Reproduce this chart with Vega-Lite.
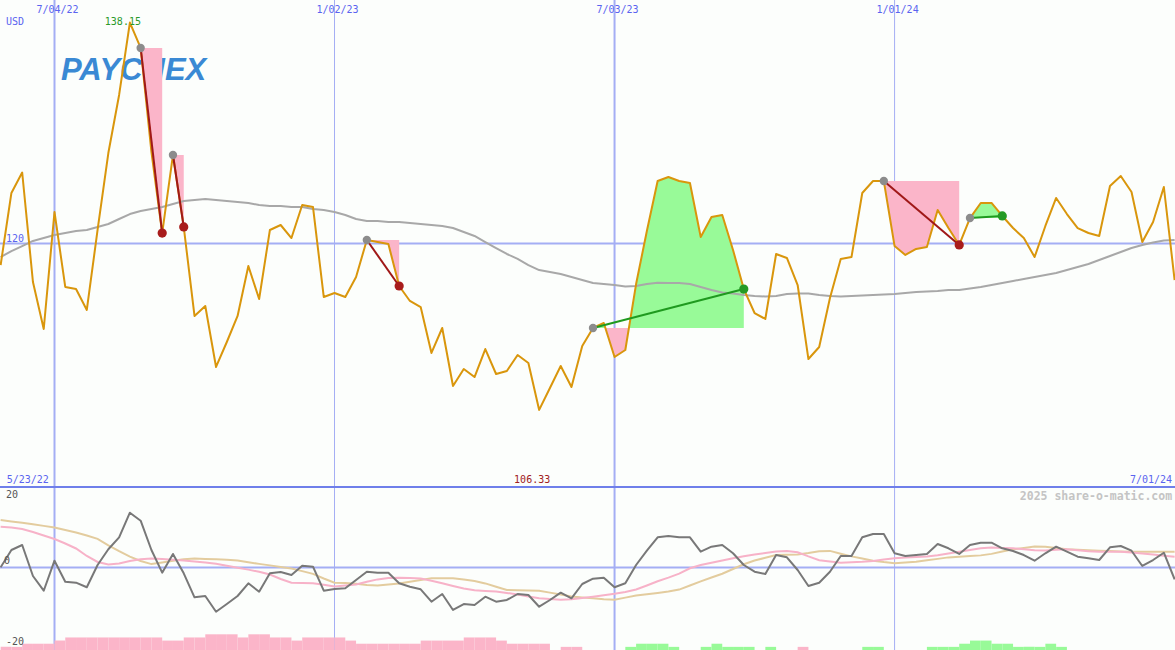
{
"$schema":"https://vega.github.io/schema/vega-lite/v6.json",
"background":"#fcfefc",
"padding":0,
"spacing":0,
"bounds":"flush",
"config":{"view":{"stroke":null},"text":{"font":"DejaVu Sans Mono"}},
"datasets":{
"g":[
{"d":"2022-07-04","t":"7/04/22"},
{"d":"2023-01-02","t":"1/02/23"},
{"d":"2023-07-03","t":"7/03/23"},
{"d":"2024-01-01","t":"1/01/24"}
],
"w":[
{"d":"2022-05-30","p":118.23,"ma":118.89,"mo":0.05,"s1":11.18,"s2":12.99},
{"d":"2022-06-06","p":124.15,"ma":119.38,"mo":4.79,"s1":10.93,"s2":12.63},
{"d":"2022-06-13","p":125.83,"ma":119.79,"mo":6.16,"s1":10.55,"s2":12.25},
{"d":"2022-06-20","p":116.84,"ma":120.21,"mo":-2.33,"s1":9.73,"s2":11.86},
{"d":"2022-06-27","p":112.98,"ma":120.45,"mo":-6.36,"s1":8.77,"s2":11.40},
{"d":"2022-07-04","p":122.59,"ma":120.70,"mo":1.86,"s1":7.81,"s2":10.93},
{"d":"2022-07-11","p":116.43,"ma":120.86,"mo":-3.89,"s1":6.58,"s2":10.27},
{"d":"2022-07-18","p":116.26,"ma":121.03,"mo":-4.16,"s1":5.21,"s2":9.59},
{"d":"2022-07-25","p":114.54,"ma":121.11,"mo":-5.42,"s1":3.15,"s2":8.77},
{"d":"2022-08-01","p":121.11,"ma":121.36,"mo":0.68,"s1":1.51,"s2":7.84},
{"d":"2022-08-08","p":127.43,"ma":121.60,"mo":4.99,"s1":0.82,"s2":6.08},
{"d":"2022-08-15","p":132.20,"ma":122.01,"mo":8.27,"s1":1.10,"s2":4.47},
{"d":"2022-08-22","p":138.15,"ma":122.42,"mo":15.01,"s1":1.78,"s2":2.99},
{"d":"2022-08-29","p":136.06,"ma":122.67,"mo":12.82,"s1":2.25,"s2":1.78},
{"d":"2022-09-05","p":127.52,"ma":122.83,"mo":4.79,"s1":2.47,"s2":0.93},
{"d":"2022-09-12","p":120.86,"ma":123.00,"mo":-1.42,"s1":2.33,"s2":1.37},
{"d":"2022-09-19","p":127.27,"ma":123.24,"mo":3.70,"s1":2.11,"s2":1.84},
{"d":"2022-09-26","p":121.36,"ma":123.49,"mo":-1.59,"s1":1.92,"s2":2.27},
{"d":"2022-10-03","p":114.05,"ma":123.57,"mo":-8.16,"s1":1.64,"s2":2.47},
{"d":"2022-10-10","p":114.87,"ma":123.66,"mo":-7.81,"s1":1.37,"s2":2.36},
{"d":"2022-10-17","p":109.86,"ma":123.57,"mo":-12.11,"s1":1.01,"s2":2.25},
{"d":"2022-10-24","p":111.91,"ma":123.49,"mo":-10.00,"s1":0.49,"s2":2.14},
{"d":"2022-10-31","p":114.05,"ma":123.41,"mo":-7.81,"s1":-0.05,"s2":1.89},
{"d":"2022-11-07","p":118.15,"ma":123.33,"mo":-4.33,"s1":-0.58,"s2":1.42},
{"d":"2022-11-14","p":115.44,"ma":123.16,"mo":-6.63,"s1":-1.18,"s2":0.99},
{"d":"2022-11-21","p":121.11,"ma":123.08,"mo":-1.59,"s1":-1.92,"s2":0.58},
{"d":"2022-11-28","p":121.52,"ma":123.08,"mo":-1.23,"s1":-3.15,"s2":0.16},
{"d":"2022-12-05","p":120.45,"ma":123.00,"mo":-2.05,"s1":-4.16,"s2":-0.30},
{"d":"2022-12-12","p":123.16,"ma":123.00,"mo":0.49,"s1":-4.25,"s2":-0.99},
{"d":"2022-12-19","p":123.00,"ma":122.83,"mo":0.22,"s1":-4.30,"s2":-1.75},
{"d":"2022-12-26","p":115.61,"ma":122.75,"mo":-6.36,"s1":-4.74,"s2":-3.01},
{"d":"2023-01-02","p":115.93,"ma":122.59,"mo":-5.89,"s1":-5.23,"s2":-4.16},
{"d":"2023-01-09","p":115.61,"ma":122.34,"mo":-5.70,"s1":-4.93,"s2":-4.25},
{"d":"2023-01-16","p":117.25,"ma":122.01,"mo":-3.42,"s1":-4.66,"s2":-4.44},
{"d":"2023-01-23","p":120.29,"ma":121.85,"mo":-1.15,"s1":-3.89,"s2":-4.82},
{"d":"2023-01-30","p":120.12,"ma":121.85,"mo":-1.42,"s1":-3.26,"s2":-4.96},
{"d":"2023-02-06","p":119.96,"ma":121.77,"mo":-1.42,"s1":-2.90,"s2":-4.68},
{"d":"2023-02-13","p":116.51,"ma":121.77,"mo":-4.33,"s1":-2.79,"s2":-4.41},
{"d":"2023-02-20","p":115.28,"ma":121.68,"mo":-5.26,"s1":-2.88,"s2":-3.92},
{"d":"2023-02-27","p":114.78,"ma":121.60,"mo":-5.97,"s1":-3.01,"s2":-3.40},
{"d":"2023-03-06","p":111.01,"ma":121.52,"mo":-9.37,"s1":-3.64,"s2":-2.96},
{"d":"2023-03-13","p":113.06,"ma":121.44,"mo":-7.26,"s1":-4.33,"s2":-2.96},
{"d":"2023-03-20","p":108.30,"ma":121.27,"mo":-11.64,"s1":-5.07,"s2":-2.96},
{"d":"2023-03-27","p":109.69,"ma":120.94,"mo":-10.00,"s1":-5.75,"s2":-3.32},
{"d":"2023-04-03","p":109.03,"ma":120.62,"mo":-10.27,"s1":-6.25,"s2":-3.70},
{"d":"2023-04-10","p":111.33,"ma":120.12,"mo":-8.00,"s1":-6.41,"s2":-4.36},
{"d":"2023-04-17","p":109.28,"ma":119.63,"mo":-9.37,"s1":-6.58,"s2":-5.29},
{"d":"2023-04-24","p":109.53,"ma":119.14,"mo":-8.90,"s1":-6.96,"s2":-6.16},
{"d":"2023-05-01","p":110.84,"ma":118.73,"mo":-7.26,"s1":-7.42,"s2":-6.22},
{"d":"2023-05-08","p":110.18,"ma":118.23,"mo":-7.53,"s1":-7.92,"s2":-6.30},
{"d":"2023-05-15","p":106.33,"ma":117.82,"mo":-10.74,"s1":-8.41,"s2":-6.36},
{"d":"2023-05-22","p":108.13,"ma":117.66,"mo":-8.90,"s1":-8.63,"s2":-6.88},
{"d":"2023-05-29","p":109.94,"ma":117.49,"mo":-6.90,"s1":-8.82,"s2":-7.40},
{"d":"2023-06-05","p":108.21,"ma":117.25,"mo":-8.44,"s1":-8.71,"s2":-7.92},
{"d":"2023-06-12","p":111.58,"ma":117.00,"mo":-4.52,"s1":-8.36,"s2":-8.19},
{"d":"2023-06-19","p":113.06,"ma":116.76,"mo":-3.07,"s1":-8.00,"s2":-8.44},
{"d":"2023-06-26","p":113.47,"ma":116.67,"mo":-2.79,"s1":-7.62,"s2":-8.68},
{"d":"2023-07-03","p":110.68,"ma":116.59,"mo":-5.42,"s1":-7.21,"s2":-8.82},
{"d":"2023-07-10","p":111.25,"ma":116.47,"mo":-4.33,"s1":-6.71,"s2":-8.25},
{"d":"2023-07-17","p":116.67,"ma":116.51,"mo":0.68,"s1":-6.03,"s2":-7.67},
{"d":"2023-07-24","p":121.03,"ma":116.67,"mo":4.60,"s1":-4.93,"s2":-7.32},
{"d":"2023-07-31","p":125.13,"ma":116.78,"mo":8.27,"s1":-3.78,"s2":-6.99},
{"d":"2023-08-07","p":125.46,"ma":116.76,"mo":8.63,"s1":-2.79,"s2":-6.60},
{"d":"2023-08-14","p":125.13,"ma":116.76,"mo":8.27,"s1":-1.70,"s2":-6.05},
{"d":"2023-08-21","p":124.97,"ma":116.67,"mo":8.27,"s1":-0.22,"s2":-4.93},
{"d":"2023-08-28","p":120.53,"ma":116.43,"mo":4.33,"s1":0.68,"s2":-3.81},
{"d":"2023-09-04","p":122.18,"ma":116.18,"mo":5.70,"s1":1.29,"s2":-2.74},
{"d":"2023-09-11","p":122.34,"ma":115.98,"mo":6.16,"s1":1.92,"s2":-1.70},
{"d":"2023-09-18","p":119.47,"ma":115.89,"mo":3.89,"s1":2.52,"s2":-0.41},
{"d":"2023-09-25","p":116.26,"ma":115.77,"mo":0.68,"s1":3.10,"s2":0.88},
{"d":"2023-10-02","p":114.29,"ma":115.69,"mo":-1.15,"s1":3.59,"s2":1.92},
{"d":"2023-10-09","p":113.80,"ma":115.65,"mo":-1.78,"s1":3.97,"s2":2.66},
{"d":"2023-10-16","p":119.14,"ma":115.69,"mo":3.42,"s1":4.36,"s2":3.40},
{"d":"2023-10-23","p":118.81,"ma":115.85,"mo":2.79,"s1":4.52,"s2":3.48},
{"d":"2023-10-30","p":116.59,"ma":115.89,"mo":-0.68,"s1":4.19,"s2":3.56},
{"d":"2023-11-06","p":110.51,"ma":115.89,"mo":-5.07,"s1":3.04,"s2":3.97},
{"d":"2023-11-13","p":111.50,"ma":115.77,"mo":-4.16,"s1":1.97,"s2":4.47},
{"d":"2023-11-20","p":115.52,"ma":115.69,"mo":-1.15,"s1":1.62,"s2":4.55},
{"d":"2023-11-27","p":118.73,"ma":115.65,"mo":3.15,"s1":1.32,"s2":3.78},
{"d":"2023-12-04","p":118.89,"ma":115.69,"mo":3.15,"s1":1.42,"s2":3.04},
{"d":"2023-12-11","p":124.15,"ma":115.73,"mo":8.27,"s1":1.56,"s2":2.47},
{"d":"2023-12-18","p":125.13,"ma":115.77,"mo":9.18,"s1":1.81,"s2":1.86},
{"d":"2023-12-25","p":125.13,"ma":115.81,"mo":9.18,"s1":2.19,"s2":1.48},
{"d":"2024-01-01","p":119.79,"ma":115.85,"mo":3.89,"s1":2.55,"s2":1.18},
{"d":"2024-01-08","p":119.06,"ma":115.93,"mo":3.15,"s1":2.71,"s2":1.37},
{"d":"2024-01-15","p":119.55,"ma":116.02,"mo":3.42,"s1":2.88,"s2":1.59},
{"d":"2024-01-22","p":119.71,"ma":116.06,"mo":3.70,"s1":3.04,"s2":1.97},
{"d":"2024-01-29","p":122.75,"ma":116.10,"mo":6.44,"s1":3.34,"s2":2.36},
{"d":"2024-02-05","p":121.27,"ma":116.18,"mo":5.26,"s1":3.84,"s2":2.77},
{"d":"2024-02-12","p":119.88,"ma":116.18,"mo":3.70,"s1":4.30,"s2":2.96},
{"d":"2024-02-19","p":122.09,"ma":116.30,"mo":6.16,"s1":4.79,"s2":3.15},
{"d":"2024-02-26","p":123.33,"ma":116.43,"mo":6.79,"s1":5.29,"s2":3.32},
{"d":"2024-03-04","p":123.33,"ma":116.59,"mo":6.79,"s1":5.48,"s2":3.73},
{"d":"2024-03-11","p":122.26,"ma":116.76,"mo":5.26,"s1":5.37,"s2":4.36},
{"d":"2024-03-18","p":121.27,"ma":116.92,"mo":4.52,"s1":5.26,"s2":4.99},
{"d":"2024-03-25","p":120.45,"ma":117.08,"mo":3.42,"s1":4.99,"s2":5.34},
{"d":"2024-04-01","p":118.89,"ma":117.25,"mo":1.86,"s1":4.71,"s2":5.73},
{"d":"2024-04-08","p":121.44,"ma":117.41,"mo":3.89,"s1":4.68,"s2":5.70},
{"d":"2024-04-15","p":123.74,"ma":117.58,"mo":5.70,"s1":4.85,"s2":5.32},
{"d":"2024-04-22","p":122.42,"ma":117.82,"mo":4.33,"s1":4.99,"s2":4.99},
{"d":"2024-04-29","p":121.27,"ma":118.07,"mo":2.96,"s1":4.71,"s2":4.85},
{"d":"2024-05-06","p":120.86,"ma":118.32,"mo":2.52,"s1":4.44,"s2":4.74},
{"d":"2024-05-13","p":120.62,"ma":118.64,"mo":2.05,"s1":4.33,"s2":4.60},
{"d":"2024-05-20","p":124.72,"ma":118.97,"mo":5.53,"s1":4.33,"s2":4.52},
{"d":"2024-05-27","p":125.54,"ma":119.30,"mo":5.89,"s1":4.30,"s2":4.41},
{"d":"2024-06-03","p":124.23,"ma":119.63,"mo":4.60,"s1":4.11,"s2":4.33},
{"d":"2024-06-10","p":120.12,"ma":119.88,"mo":0.41,"s1":3.81,"s2":4.33},
{"d":"2024-06-17","p":121.77,"ma":120.08,"mo":2.05,"s1":3.53,"s2":4.33},
{"d":"2024-06-24","p":124.64,"ma":120.25,"mo":4.05,"s1":3.23,"s2":4.33},
{"d":"2024-07-01","p":117.00,"ma":120.29,"mo":-3.23,"s1":2.96,"s2":4.33}
],
"s":[
{"g":1,"k":"loss","d":"2022-08-29","p":136.06,"e":136.06},
{"g":1,"k":"loss","d":"2022-09-05","p":127.52,"e":136.06},
{"g":1,"k":"loss","d":"2022-09-12","p":120.86,"e":136.06},
{"g":2,"k":"loss","d":"2022-09-19","p":127.27,"e":127.27},
{"g":2,"k":"loss","d":"2022-09-26","p":121.36,"e":127.27},
{"g":3,"k":"loss","d":"2023-01-23","p":120.29,"e":120.29},
{"g":3,"k":"loss","d":"2023-01-30","p":120.12,"e":120.29},
{"g":3,"k":"loss","d":"2023-02-06","p":119.96,"e":120.29},
{"g":3,"k":"loss","d":"2023-02-13","p":116.51,"e":120.29},
{"g":4,"k":"gain","d":"2023-06-19","p":113.06,"e":113.06},
{"g":4,"k":"gain","d":"2023-06-26","p":113.47,"e":113.06},
{"g":4,"k":"gain","d":"2023-06-27T10:00:00Z","p":113.06,"e":113.06},
{"g":5,"k":"loss","d":"2023-06-27T10:00:00Z","p":113.06,"e":113.06},
{"g":5,"k":"loss","d":"2023-07-03","p":110.68,"e":113.06},
{"g":5,"k":"loss","d":"2023-07-10","p":111.25,"e":113.06},
{"g":5,"k":"loss","d":"2023-07-12T08:00:00Z","p":113.06,"e":113.06},
{"g":6,"k":"gain","d":"2023-07-12T08:00:00Z","p":113.06,"e":113.06},
{"g":6,"k":"gain","d":"2023-07-17","p":116.67,"e":113.06},
{"g":6,"k":"gain","d":"2023-07-24","p":121.03,"e":113.06},
{"g":6,"k":"gain","d":"2023-07-31","p":125.13,"e":113.06},
{"g":6,"k":"gain","d":"2023-08-07","p":125.46,"e":113.06},
{"g":6,"k":"gain","d":"2023-08-14","p":125.13,"e":113.06},
{"g":6,"k":"gain","d":"2023-08-21","p":124.97,"e":113.06},
{"g":6,"k":"gain","d":"2023-08-28","p":120.53,"e":113.06},
{"g":6,"k":"gain","d":"2023-09-04","p":122.18,"e":113.06},
{"g":6,"k":"gain","d":"2023-09-11","p":122.34,"e":113.06},
{"g":6,"k":"gain","d":"2023-09-18","p":119.47,"e":113.06},
{"g":6,"k":"gain","d":"2023-09-25","p":116.26,"e":113.06},
{"g":7,"k":"loss","d":"2023-12-25","p":125.13,"e":125.13},
{"g":7,"k":"loss","d":"2024-01-01","p":119.79,"e":125.13},
{"g":7,"k":"loss","d":"2024-01-08","p":119.06,"e":125.13},
{"g":7,"k":"loss","d":"2024-01-15","p":119.55,"e":125.13},
{"g":7,"k":"loss","d":"2024-01-22","p":119.71,"e":125.13},
{"g":7,"k":"loss","d":"2024-01-29","p":122.75,"e":125.13},
{"g":7,"k":"loss","d":"2024-02-05","p":121.27,"e":125.13},
{"g":7,"k":"loss","d":"2024-02-12","p":119.88,"e":125.13},
{"g":8,"k":"gain","d":"2024-02-19","p":122.09,"e":122.09},
{"g":8,"k":"gain","d":"2024-02-26","p":123.33,"e":122.09},
{"g":8,"k":"gain","d":"2024-03-04","p":123.33,"e":122.09},
{"g":8,"k":"gain","d":"2024-03-11","p":122.26,"e":122.09}
],
"t":[
{"d1":"2022-08-29","p1":136.06,"d2":"2022-09-12","p2":120.86,"k":"loss"},
{"d1":"2022-09-19","p1":127.27,"d2":"2022-09-26","p2":121.36,"k":"loss"},
{"d1":"2023-01-23","p1":120.29,"d2":"2023-02-13","p2":116.51,"k":"loss"},
{"d1":"2023-06-19","p1":113.06,"d2":"2023-09-25","p2":116.26,"k":"gain"},
{"d1":"2023-12-25","p1":125.13,"d2":"2024-02-12","p2":119.88,"k":"loss"},
{"d1":"2024-02-19","p1":122.09,"d2":"2024-03-11","p2":122.26,"k":"gain"}
],
"b":[
{"d":"2022-05-30","e":"2022-06-06","v":-21.74,"k":"loss"},
{"d":"2022-06-06","e":"2022-06-13","v":-21.74,"k":"loss"},
{"d":"2022-06-13","e":"2022-06-20","v":-20.88,"k":"loss"},
{"d":"2022-06-20","e":"2022-06-27","v":-20.88,"k":"loss"},
{"d":"2022-06-27","e":"2022-07-04","v":-20.88,"k":"loss"},
{"d":"2022-07-04","e":"2022-07-11","v":-20.02,"k":"loss"},
{"d":"2022-07-11","e":"2022-07-18","v":-19.16,"k":"loss"},
{"d":"2022-07-18","e":"2022-07-25","v":-19.16,"k":"loss"},
{"d":"2022-07-25","e":"2022-08-01","v":-19.16,"k":"loss"},
{"d":"2022-08-01","e":"2022-08-08","v":-19.16,"k":"loss"},
{"d":"2022-08-08","e":"2022-08-15","v":-19.16,"k":"loss"},
{"d":"2022-08-15","e":"2022-08-22","v":-19.16,"k":"loss"},
{"d":"2022-08-22","e":"2022-08-29","v":-19.16,"k":"loss"},
{"d":"2022-08-29","e":"2022-09-05","v":-19.16,"k":"loss"},
{"d":"2022-09-05","e":"2022-09-12","v":-19.16,"k":"loss"},
{"d":"2022-09-12","e":"2022-09-19","v":-20.02,"k":"loss"},
{"d":"2022-09-19","e":"2022-09-26","v":-20.02,"k":"loss"},
{"d":"2022-09-26","e":"2022-10-03","v":-19.16,"k":"loss"},
{"d":"2022-10-03","e":"2022-10-10","v":-19.16,"k":"loss"},
{"d":"2022-10-10","e":"2022-10-17","v":-18.30,"k":"loss"},
{"d":"2022-10-17","e":"2022-10-24","v":-18.30,"k":"loss"},
{"d":"2022-10-24","e":"2022-10-31","v":-18.30,"k":"loss"},
{"d":"2022-10-31","e":"2022-11-07","v":-19.16,"k":"loss"},
{"d":"2022-11-07","e":"2022-11-14","v":-18.30,"k":"loss"},
{"d":"2022-11-14","e":"2022-11-21","v":-18.30,"k":"loss"},
{"d":"2022-11-21","e":"2022-11-28","v":-19.16,"k":"loss"},
{"d":"2022-11-28","e":"2022-12-05","v":-19.16,"k":"loss"},
{"d":"2022-12-05","e":"2022-12-12","v":-20.02,"k":"loss"},
{"d":"2022-12-12","e":"2022-12-19","v":-19.16,"k":"loss"},
{"d":"2022-12-19","e":"2022-12-26","v":-19.16,"k":"loss"},
{"d":"2022-12-26","e":"2023-01-02","v":-19.16,"k":"loss"},
{"d":"2023-01-02","e":"2023-01-09","v":-19.16,"k":"loss"},
{"d":"2023-01-09","e":"2023-01-16","v":-20.02,"k":"loss"},
{"d":"2023-01-16","e":"2023-01-23","v":-20.88,"k":"loss"},
{"d":"2023-01-23","e":"2023-01-30","v":-20.88,"k":"loss"},
{"d":"2023-01-30","e":"2023-02-06","v":-20.88,"k":"loss"},
{"d":"2023-02-06","e":"2023-02-13","v":-20.88,"k":"loss"},
{"d":"2023-02-13","e":"2023-02-20","v":-20.88,"k":"loss"},
{"d":"2023-02-20","e":"2023-02-27","v":-20.88,"k":"loss"},
{"d":"2023-02-27","e":"2023-03-06","v":-20.02,"k":"loss"},
{"d":"2023-03-06","e":"2023-03-13","v":-20.02,"k":"loss"},
{"d":"2023-03-13","e":"2023-03-20","v":-20.02,"k":"loss"},
{"d":"2023-03-20","e":"2023-03-27","v":-20.02,"k":"loss"},
{"d":"2023-03-27","e":"2023-04-03","v":-19.16,"k":"loss"},
{"d":"2023-04-03","e":"2023-04-10","v":-19.16,"k":"loss"},
{"d":"2023-04-10","e":"2023-04-17","v":-19.16,"k":"loss"},
{"d":"2023-04-17","e":"2023-04-24","v":-20.02,"k":"loss"},
{"d":"2023-04-24","e":"2023-05-01","v":-20.88,"k":"loss"},
{"d":"2023-05-01","e":"2023-05-08","v":-20.88,"k":"loss"},
{"d":"2023-05-08","e":"2023-05-15","v":-20.88,"k":"loss"},
{"d":"2023-05-15","e":"2023-05-22","v":-20.88,"k":"loss"},
{"d":"2023-05-29","e":"2023-06-05","v":-21.74,"k":"loss"},
{"d":"2023-06-05","e":"2023-06-12","v":-21.74,"k":"loss"},
{"d":"2023-07-10","e":"2023-07-17","v":-21.74,"k":"gain"},
{"d":"2023-07-17","e":"2023-07-24","v":-20.88,"k":"gain"},
{"d":"2023-07-24","e":"2023-07-31","v":-20.88,"k":"gain"},
{"d":"2023-07-31","e":"2023-08-07","v":-20.88,"k":"gain"},
{"d":"2023-08-07","e":"2023-08-14","v":-21.74,"k":"gain"},
{"d":"2023-08-28","e":"2023-09-04","v":-21.74,"k":"gain"},
{"d":"2023-09-04","e":"2023-09-11","v":-20.88,"k":"gain"},
{"d":"2023-09-11","e":"2023-09-18","v":-21.74,"k":"gain"},
{"d":"2023-09-18","e":"2023-09-25","v":-21.74,"k":"gain"},
{"d":"2023-09-25","e":"2023-10-02","v":-21.74,"k":"gain"},
{"d":"2023-10-09","e":"2023-10-16","v":-21.74,"k":"gain"},
{"d":"2023-10-30","e":"2023-11-06","v":-21.74,"k":"loss"},
{"d":"2023-12-11","e":"2023-12-18","v":-21.74,"k":"gain"},
{"d":"2023-12-18","e":"2023-12-25","v":-21.74,"k":"gain"},
{"d":"2024-01-22","e":"2024-01-29","v":-21.74,"k":"gain"},
{"d":"2024-01-29","e":"2024-02-05","v":-21.74,"k":"gain"},
{"d":"2024-02-05","e":"2024-02-12","v":-21.74,"k":"gain"},
{"d":"2024-02-12","e":"2024-02-19","v":-20.88,"k":"gain"},
{"d":"2024-02-19","e":"2024-02-26","v":-20.02,"k":"gain"},
{"d":"2024-02-26","e":"2024-03-04","v":-20.02,"k":"gain"},
{"d":"2024-03-04","e":"2024-03-11","v":-20.88,"k":"gain"},
{"d":"2024-03-11","e":"2024-03-18","v":-20.88,"k":"gain"},
{"d":"2024-03-18","e":"2024-03-25","v":-21.74,"k":"gain"},
{"d":"2024-03-25","e":"2024-04-01","v":-21.74,"k":"gain"},
{"d":"2024-04-01","e":"2024-04-08","v":-21.74,"k":"gain"},
{"d":"2024-04-08","e":"2024-04-15","v":-20.88,"k":"gain"},
{"d":"2024-04-15","e":"2024-04-22","v":-21.74,"k":"gain"}
]
},
"vconcat":[
{
"width":1175,"height":487,
"layer":[
{"data":{"name":"g"},
 "mark":{"type":"rule","stroke":"#a4aef4","clip":true},
 "encoding":{
  "x":{"field":"d","type":"temporal","scale":{"domain":[{"year":2022,"month":5,"date":29,"hours":14,"utc":true},{"year":2024,"month":7,"date":1,"hours":6,"utc":true}]},"axis":null},
  "strokeWidth":{"condition":{"test":"utcmonth(datum.d) == 6","value":2},"value":1}
 }},
{"data":{"values":[{}]},
 "mark":{"type":"rule","stroke":"#a4aef4","strokeWidth":2,"clip":true},
 "encoding":{"y":{"datum":120,"type":"quantitative","scale":{"domain":[100,140],"zero":false,"nice":false},"axis":null}}},
{"data":{"values":[{}]},
 "mark":{"type":"rule","stroke":"#6f7fea","strokeWidth":2,"clip":true},
 "encoding":{"y":{"datum":100,"type":"quantitative","scale":{"domain":[100,140],"zero":false,"nice":false},"axis":null}}},
{"data":{"name":"g"},
 "mark":{"type":"text","font":"DejaVu Sans Mono","fontSize":10,"fill":"#5a64f0","align":"center","baseline":"alphabetic","dx":3},
 "encoding":{
  "x":{"field":"d","type":"temporal","scale":{"domain":[{"year":2022,"month":5,"date":29,"hours":14,"utc":true},{"year":2024,"month":7,"date":1,"hours":6,"utc":true}]},"axis":null},
  "y":{"datum":138.93,"type":"quantitative","scale":{"domain":[100,140],"zero":false,"nice":false},"axis":null},
  "text":{"field":"t","type":"nominal"}
 }},
{"data":{"values":[{}]},
 "mark":{"type":"text","text":"USD","font":"DejaVu Sans Mono","fontSize":10,"fill":"#5a64f0","align":"left","baseline":"alphabetic"},
 "encoding":{
  "x":{"datum":{"year":2022,"month":6,"date":2,"hours":11,"utc":true},"type":"temporal","scale":{"domain":[{"year":2022,"month":5,"date":29,"hours":14,"utc":true},{"year":2024,"month":7,"date":1,"hours":6,"utc":true}]},"axis":null},
  "y":{"datum":137.95,"type":"quantitative","scale":{"domain":[100,140],"zero":false,"nice":false},"axis":null}
 }},
{"data":{"values":[{}]},
 "mark":{"type":"text","text":"120","font":"DejaVu Sans Mono","fontSize":10,"fill":"#5a64f0","align":"left","baseline":"alphabetic","dy":-2},
 "encoding":{
  "x":{"datum":{"year":2022,"month":6,"date":2,"hours":11,"utc":true},"type":"temporal","scale":{"domain":[{"year":2022,"month":5,"date":29,"hours":14,"utc":true},{"year":2024,"month":7,"date":1,"hours":6,"utc":true}]},"axis":null},
  "y":{"datum":120,"type":"quantitative","scale":{"domain":[100,140],"zero":false,"nice":false},"axis":null}
 }},
{"data":{"values":[{}]},
 "mark":{"type":"text","text":"PAYCHEX","font":"Liberation Sans","fontSize":31,"fontWeight":"bold","fontStyle":"italic","fill":"#3a89d4","align":"left","baseline":"alphabetic"},
 "encoding":{
  "x":{"datum":{"year":2022,"month":7,"date":8,"hours":5,"utc":true},"type":"temporal","scale":{"domain":[{"year":2022,"month":5,"date":29,"hours":14,"utc":true},{"year":2024,"month":7,"date":1,"hours":6,"utc":true}]},"axis":null},
  "y":{"datum":133.43,"type":"quantitative","scale":{"domain":[100,140],"zero":false,"nice":false},"axis":null}
 }},
{"data":{"name":"s"},
 "mark":{"type":"area","opacity":1,"clip":true},
 "encoding":{
  "x":{"field":"d","type":"temporal","scale":{"domain":[{"year":2022,"month":5,"date":29,"hours":14,"utc":true},{"year":2024,"month":7,"date":1,"hours":6,"utc":true}]},"axis":null},
  "y":{"field":"p","type":"quantitative","scale":{"domain":[100,140],"zero":false,"nice":false},"axis":null},
  "y2":{"field":"e"},
  "detail":{"field":"g","type":"nominal"},
  "color":{"field":"k","type":"nominal","scale":{"domain":["loss","gain"],"range":["#fbb5c9","#98fa98"]},"legend":null}
 }},
{"data":{"name":"w"},
 "mark":{"type":"line","stroke":"#a8a8a8","strokeWidth":2,"strokeJoin":"round","clip":true},
 "encoding":{
  "x":{"field":"d","type":"temporal","scale":{"domain":[{"year":2022,"month":5,"date":29,"hours":14,"utc":true},{"year":2024,"month":7,"date":1,"hours":6,"utc":true}]},"axis":null},
  "y":{"field":"ma","type":"quantitative","scale":{"domain":[100,140],"zero":false,"nice":false},"axis":null}
 }},
{"data":{"name":"w"},
 "mark":{"type":"line","stroke":"#d9960c","strokeWidth":2,"strokeJoin":"round","clip":true},
 "encoding":{
  "x":{"field":"d","type":"temporal","scale":{"domain":[{"year":2022,"month":5,"date":29,"hours":14,"utc":true},{"year":2024,"month":7,"date":1,"hours":6,"utc":true}]},"axis":null},
  "y":{"field":"p","type":"quantitative","scale":{"domain":[100,140],"zero":false,"nice":false},"axis":null}
 }},
{"data":{"name":"t"},
 "mark":{"type":"rule","strokeWidth":2,"clip":true},
 "encoding":{
  "x":{"field":"d1","type":"temporal","scale":{"domain":[{"year":2022,"month":5,"date":29,"hours":14,"utc":true},{"year":2024,"month":7,"date":1,"hours":6,"utc":true}]},"axis":null},
  "y":{"field":"p1","type":"quantitative","scale":{"domain":[100,140],"zero":false,"nice":false},"axis":null},
  "x2":{"field":"d2"},
  "y2":{"field":"p2"},
  "color":{"condition":{"test":"datum.k == 'gain'","value":"#1f9a1f"},"value":"#a01818"}
 }},
{"data":{"name":"t"},
 "mark":{"type":"circle","size":70,"opacity":1,"color":"#8c8c8c"},
 "encoding":{
  "x":{"field":"d1","type":"temporal","scale":{"domain":[{"year":2022,"month":5,"date":29,"hours":14,"utc":true},{"year":2024,"month":7,"date":1,"hours":6,"utc":true}]},"axis":null},
  "y":{"field":"p1","type":"quantitative","scale":{"domain":[100,140],"zero":false,"nice":false},"axis":null}
 }},
{"data":{"name":"t"},
 "mark":{"type":"circle","size":85,"opacity":1},
 "encoding":{
  "x":{"field":"d2","type":"temporal","scale":{"domain":[{"year":2022,"month":5,"date":29,"hours":14,"utc":true},{"year":2024,"month":7,"date":1,"hours":6,"utc":true}]},"axis":null},
  "y":{"field":"p2","type":"quantitative","scale":{"domain":[100,140],"zero":false,"nice":false},"axis":null},
  "color":{"condition":{"test":"datum.k == 'gain'","value":"#259a25"},"value":"#a81c1c"}
 }},
{"data":{"name":"w"},
 "transform":[{"filter":"datum.p >= 138"}],
 "mark":{"type":"text","font":"DejaVu Sans Mono","fontSize":10,"fill":"#2a9a2a","align":"center","baseline":"alphabetic","dx":-7,"dy":2.5},
 "encoding":{
  "x":{"field":"d","type":"temporal","scale":{"domain":[{"year":2022,"month":5,"date":29,"hours":14,"utc":true},{"year":2024,"month":7,"date":1,"hours":6,"utc":true}]},"axis":null},
  "y":{"field":"p","type":"quantitative","scale":{"domain":[100,140],"zero":false,"nice":false},"axis":null},
  "text":{"field":"p","type":"quantitative","format":".2f"}
 }},
{"data":{"name":"w"},
 "transform":[{"filter":"datum.p <= 106.4"}],
 "mark":{"type":"text","font":"DejaVu Sans Mono","fontSize":10,"fill":"#a02020","align":"center","baseline":"alphabetic","dx":-7,"dy":-4},
 "encoding":{
  "x":{"field":"d","type":"temporal","scale":{"domain":[{"year":2022,"month":5,"date":29,"hours":14,"utc":true},{"year":2024,"month":7,"date":1,"hours":6,"utc":true}]},"axis":null},
  "y":{"datum":100,"type":"quantitative","scale":{"domain":[100,140],"zero":false,"nice":false},"axis":null},
  "text":{"field":"p","type":"quantitative","format":".2f"}
 }},
{"data":{"values":[{}]},
 "mark":{"type":"text","text":"5/23/22","font":"DejaVu Sans Mono","fontSize":10,"fill":"#5a64f0","align":"left","baseline":"alphabetic","dx":6,"dy":-4},
 "encoding":{
  "x":{"datum":{"year":2022,"month":5,"date":30,"utc":true},"type":"temporal","scale":{"domain":[{"year":2022,"month":5,"date":29,"hours":14,"utc":true},{"year":2024,"month":7,"date":1,"hours":6,"utc":true}]},"axis":null},
  "y":{"datum":100,"type":"quantitative","scale":{"domain":[100,140],"zero":false,"nice":false},"axis":null}
 }},
{"data":{"values":[{}]},
 "mark":{"type":"text","text":"7/01/24","font":"DejaVu Sans Mono","fontSize":10,"fill":"#5a64f0","align":"right","baseline":"alphabetic","dx":-2.5,"dy":-4},
 "encoding":{
  "x":{"datum":{"year":2024,"month":7,"date":1,"utc":true},"type":"temporal","scale":{"domain":[{"year":2022,"month":5,"date":29,"hours":14,"utc":true},{"year":2024,"month":7,"date":1,"hours":6,"utc":true}]},"axis":null},
  "y":{"datum":100,"type":"quantitative","scale":{"domain":[100,140],"zero":false,"nice":false},"axis":null}
 }}
]
},
{
"width":1175,"height":163,
"layer":[
{"data":{"name":"g"},
 "mark":{"type":"rule","stroke":"#a4aef4","clip":true},
 "encoding":{
  "x":{"field":"d","type":"temporal","scale":{"domain":[{"year":2022,"month":5,"date":29,"hours":14,"utc":true},{"year":2024,"month":7,"date":1,"hours":6,"utc":true}]},"axis":null},
  "strokeWidth":{"condition":{"test":"utcmonth(datum.d) == 6","value":2},"value":1}
 }},
{"data":{"values":[{}]},
 "mark":{"type":"rule","stroke":"#a4aef4","strokeWidth":2,"clip":true},
 "encoding":{"y":{"datum":0,"type":"quantitative","scale":{"domain":[-22.6,22.05],"zero":false,"nice":false},"axis":null}}},
{"data":{"values":[{}]},
 "mark":{"type":"rule","stroke":"#6f7fea","strokeWidth":2,"clip":true},
 "encoding":{"y":{"datum":22.05,"type":"quantitative","scale":{"domain":[-22.6,22.05],"zero":false,"nice":false},"axis":null}}},
{"data":{"name":"b"},
 "mark":{"type":"rect","clip":true},
 "encoding":{
  "x":{"field":"d","type":"temporal","scale":{"domain":[{"year":2022,"month":5,"date":29,"hours":14,"utc":true},{"year":2024,"month":7,"date":1,"hours":6,"utc":true}]},"axis":null},
  "x2":{"field":"e"},
  "y":{"field":"v","type":"quantitative","scale":{"domain":[-22.6,22.05],"zero":false,"nice":false},"axis":null},
  "y2":{"datum":-22.6},
  "color":{"field":"k","type":"nominal","scale":{"domain":["loss","gain"],"range":["#fbb5c9","#98fa98"]},"legend":null}
 }},
{"data":{"name":"w"},
 "mark":{"type":"line","stroke":"#e3cc9e","strokeWidth":2,"clip":true},
 "encoding":{
  "x":{"field":"d","type":"temporal","scale":{"domain":[{"year":2022,"month":5,"date":29,"hours":14,"utc":true},{"year":2024,"month":7,"date":1,"hours":6,"utc":true}]},"axis":null},
  "y":{"field":"s2","type":"quantitative","scale":{"domain":[-22.6,22.05],"zero":false,"nice":false},"axis":null}
 }},
{"data":{"name":"w"},
 "mark":{"type":"line","stroke":"#f7b2c8","strokeWidth":2,"clip":true},
 "encoding":{
  "x":{"field":"d","type":"temporal","scale":{"domain":[{"year":2022,"month":5,"date":29,"hours":14,"utc":true},{"year":2024,"month":7,"date":1,"hours":6,"utc":true}]},"axis":null},
  "y":{"field":"s1","type":"quantitative","scale":{"domain":[-22.6,22.05],"zero":false,"nice":false},"axis":null}
 }},
{"data":{"name":"w"},
 "mark":{"type":"line","stroke":"#787878","strokeWidth":2,"strokeJoin":"round","clip":true},
 "encoding":{
  "x":{"field":"d","type":"temporal","scale":{"domain":[{"year":2022,"month":5,"date":29,"hours":14,"utc":true},{"year":2024,"month":7,"date":1,"hours":6,"utc":true}]},"axis":null},
  "y":{"field":"mo","type":"quantitative","scale":{"domain":[-22.6,22.05],"zero":false,"nice":false},"axis":null}
 }},
{"data":{"values":[{}]},
 "mark":{"type":"text","text":"20","font":"DejaVu Sans Mono","fontSize":10,"fill":"#555555","align":"left","baseline":"middle","dy":1},
 "encoding":{
  "x":{"datum":{"year":2022,"month":6,"date":2,"hours":11,"utc":true},"type":"temporal","scale":{"domain":[{"year":2022,"month":5,"date":29,"hours":14,"utc":true},{"year":2024,"month":7,"date":1,"hours":6,"utc":true}]},"axis":null},
  "y":{"datum":20,"type":"quantitative","scale":{"domain":[-22.6,22.05],"zero":false,"nice":false},"axis":null}
 }},
{"data":{"values":[{}]},
 "mark":{"type":"text","text":"0","font":"DejaVu Sans Mono","fontSize":10,"fill":"#555555","align":"left","baseline":"middle","dy":-6},
 "encoding":{
  "x":{"datum":{"year":2022,"month":6,"date":1,"hours":4,"utc":true},"type":"temporal","scale":{"domain":[{"year":2022,"month":5,"date":29,"hours":14,"utc":true},{"year":2024,"month":7,"date":1,"hours":6,"utc":true}]},"axis":null},
  "y":{"datum":0,"type":"quantitative","scale":{"domain":[-22.6,22.05],"zero":false,"nice":false},"axis":null}
 }},
{"data":{"values":[{}]},
 "mark":{"type":"text","text":"-20","font":"DejaVu Sans Mono","fontSize":10,"fill":"#555555","align":"left","baseline":"middle","dy":1.5},
 "encoding":{
  "x":{"datum":{"year":2022,"month":6,"date":2,"hours":11,"utc":true},"type":"temporal","scale":{"domain":[{"year":2022,"month":5,"date":29,"hours":14,"utc":true},{"year":2024,"month":7,"date":1,"hours":6,"utc":true}]},"axis":null},
  "y":{"datum":-20,"type":"quantitative","scale":{"domain":[-22.6,22.05],"zero":false,"nice":false},"axis":null}
 }},
{"data":{"values":[{}]},
 "mark":{"type":"text","text":"2025 share-o-matic.com","font":"DejaVu Sans Mono","fontSize":11.5,"fontWeight":"bold","fill":"#c4c4c4","align":"right","baseline":"alphabetic","dx":-2.5},
 "encoding":{
  "x":{"datum":{"year":2024,"month":7,"date":1,"utc":true},"type":"temporal","scale":{"domain":[{"year":2022,"month":5,"date":29,"hours":14,"utc":true},{"year":2024,"month":7,"date":1,"hours":6,"utc":true}]},"axis":null},
  "y":{"datum":18.5,"type":"quantitative","scale":{"domain":[-22.6,22.05],"zero":false,"nice":false},"axis":null}
 }}
]
}
]
}
